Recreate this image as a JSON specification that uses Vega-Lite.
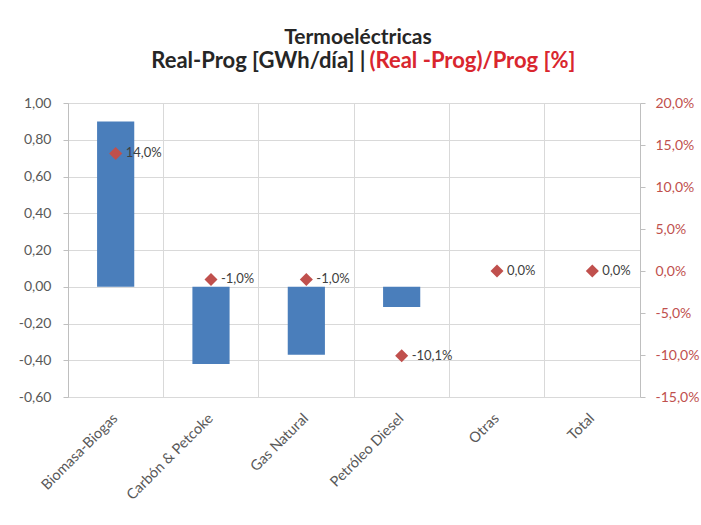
{
  "$schema": "https://vega.github.io/schema/vega-lite/v6.json",
  "autosize": {"type": "none"},
  "padding": {"left": 68, "top": 103, "right": 61, "bottom": 128},
  "width": 572,
  "height": 294,
  "background": "white",
  "title": {
    "text": "Termoeléctricas",
    "anchor": "middle",
    "frame": "group",
    "font": "Lato",
    "fontSize": 21,
    "fontWeight": "bold",
    "color": "#262626",
    "dx": 4,
    "offset": 1
  },
  "config": {
    "locale": {"number": {"decimal": ",", "thousands": ".", "grouping": [3], "currency": ["", " €"], "minus": "-"}},
    "font": "Lato",
    "view": {"stroke": null},
    "axis": {"labelFont": "Lato", "titleFont": "Lato"}
  },
  "data": {
    "values": [
      {"cat": "Biomasa-Biogas", "real": 0.90, "pct": 0.140},
      {"cat": "Carbón & Petcoke", "real": -0.42, "pct": -0.010},
      {"cat": "Gas Natural", "real": -0.37, "pct": -0.010},
      {"cat": "Petróleo Diesel", "real": -0.11, "pct": -0.101},
      {"cat": "Otras", "real": 0.0, "pct": 0.0},
      {"cat": "Total", "real": 0.0, "pct": 0.0}
    ]
  },
  "encoding": {
    "x": {
      "field": "cat",
      "type": "nominal",
      "sort": null,
      "scale": {"paddingInner": 0, "paddingOuter": 0},
      "axis": {
        "title": null,
        "labelAngle": -45,
        "labelAlign": "right",
        "labelBaseline": "middle",
        "labelFontSize": 14.5,
        "labelColor": "#595959",
        "labelPadding": 19,
        "ticks": false,
        "domain": false,
        "grid": true,
        "bandPosition": 0,
        "gridColor": "#D9D9D9",
        "gridWidth": 1
      }
    }
  },
  "layer": [
    {
      "mark": {"type": "bar", "color": "#4A7EBB", "width": {"band": 0.39}},
      "encoding": {
        "y": {
          "field": "real",
          "type": "quantitative",
          "scale": {"domain": [-0.6, 1.0], "nice": false, "zero": false},
          "axis": {
            "orient": "left",
            "values": [-0.6, -0.4, -0.2, 0, 0.2, 0.4, 0.6, 0.8, 1.0],
            "format": ".2f",
            "labelFontSize": 14,
            "labelColor": "#595959",
            "labelPadding": 12,
            "grid": true,
            "gridColor": "#D9D9D9",
            "domainColor": "#BFBFBF",
            "tickColor": "#BFBFBF",
            "tickSize": 5,
            "title": "Real-Prog [GWh/día]  |",
            "titleAngle": 0,
            "titleAlign": "right",
            "titleBaseline": "alphabetic",
            "titleX": 297,
            "titleY": -36,
            "titleFontSize": 22,
            "titleFontWeight": "bold",
            "titleColor": "#262626"
          }
        }
      }
    },
    {
      "mark": {"type": "point", "shape": "diamond", "filled": true, "size": 170, "color": "#C0504D", "opacity": 1},
      "encoding": {
        "y": {
          "field": "pct",
          "type": "quantitative",
          "scale": {"domain": [-0.15, 0.20], "nice": false, "zero": false},
          "axis": {
            "orient": "right",
            "values": [-0.15, -0.10, -0.05, 0, 0.05, 0.10, 0.15, 0.20],
            "format": ".1%",
            "labelFontSize": 14,
            "labelColor": "#C0504D",
            "labelPadding": 10,
            "grid": false,
            "domainColor": "#BFBFBF",
            "tickColor": "#BFBFBF",
            "tickSize": 5,
            "title": "(Real -Prog)/Prog [%]",
            "titleAngle": 0,
            "titleAlign": "left",
            "titleBaseline": "alphabetic",
            "titleX": -271,
            "titleY": -36,
            "titleFontSize": 22,
            "titleFontWeight": "bold",
            "titleColor": "#D9262E"
          }
        }
      }
    },
    {
      "mark": {"type": "text", "align": "left", "baseline": "middle", "dx": 10, "fontSize": 13, "color": "#404040"},
      "encoding": {
        "y": {"field": "pct", "type": "quantitative", "scale": {"domain": [-0.15, 0.20], "nice": false, "zero": false}, "axis": null},
        "text": {"field": "pct", "type": "quantitative", "format": ".1%"}
      }
    }
  ],
  "resolve": {"scale": {"y": "independent"}}
}
